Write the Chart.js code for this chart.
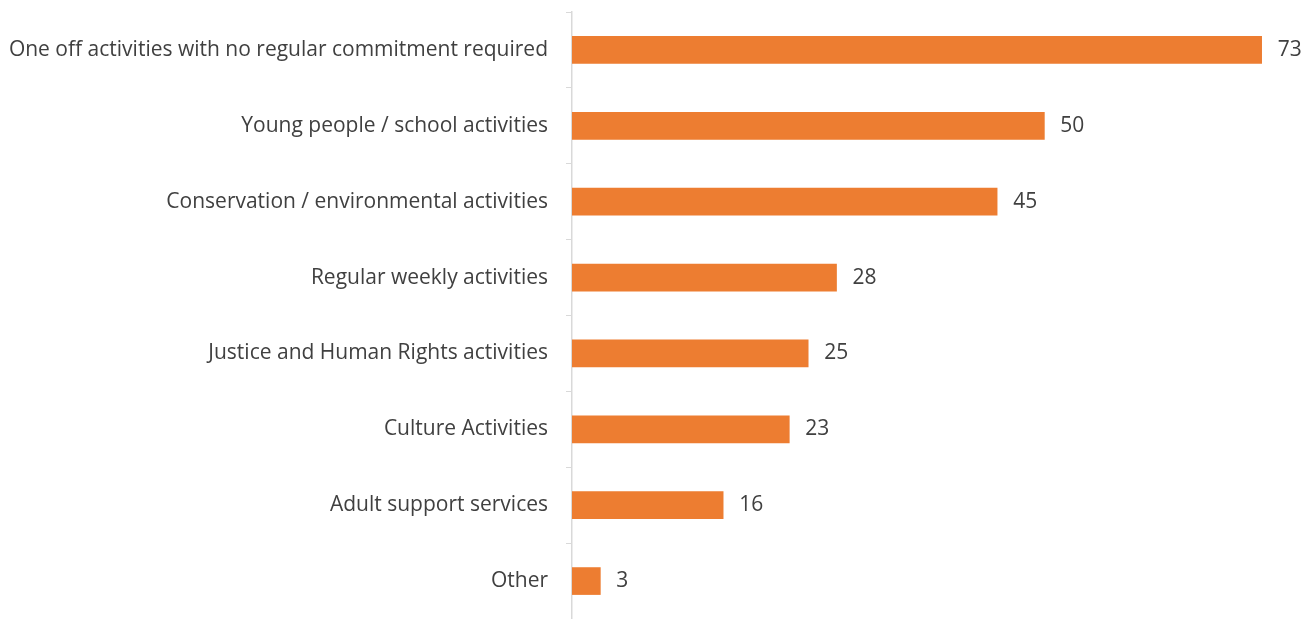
<!DOCTYPE html>
<html>
<head>
<meta charset="utf-8">
<script src="https://cdn.jsdelivr.net/npm/chart.js@4/dist/chart.umd.min.js"></script>
<style>
  html, body { margin: 0; padding: 0; background: #fff; }
  #wrap { width: 1314px; height: 619px; }
</style>
</head>
<body>
<div id="wrap"><canvas id="barChart"></canvas></div>
<script>
// Data
const categories = [
    'One off activities with no regular commitment required',
    'Young people / school activities',
    'Conservation / environmental activities',
    'Regular weekly activities',
    'Justice and Human Rights activities',
    'Culture Activities',
    'Adult support services',
    'Other'
];
const counts = [73, 50, 45, 28, 25, 23, 16, 3];

const barColor = '#ED7D31';
const textColor = '#404040';
const lineColor = '#D9D9D9';
const fontSize = 21;

Chart.defaults.font.family = "'Open Sans', sans-serif";
Chart.defaults.color = textColor;

// draw the value just right of each bar
const valueLabels = {
    id: 'valueLabels',
    afterDatasetsDraw(chart) {
        const ctx = chart.ctx;
        const meta = chart.getDatasetMeta(0);
        ctx.save();
        ctx.font = fontSize + "px 'Open Sans', sans-serif";
        ctx.fillStyle = textColor;
        ctx.textAlign = 'left';
        ctx.textBaseline = 'middle';
        meta.data.forEach((bar, i) => {
            ctx.fillText(String(counts[i]), bar.x + 16, bar.y);
        });
        ctx.restore();
    }
};

new Chart(document.getElementById('barChart').getContext('2d'), {
    type: 'bar',
    data: {
        labels: categories,
        datasets: [{
            data: counts,
            backgroundColor: barColor,
            borderWidth: 0,
            barThickness: 27
        }]
    },
    options: {
        indexAxis: 'y',
        responsive: true,
        maintainAspectRatio: false,
        animation: false,
        layout: { padding: { top: 12, right: 7, bottom: 0, left: 0 } },
        plugins: {
            legend: { display: false },
            tooltip: { enabled: false }
        },
        scales: {
            x: {
                display: false,
                min: 0,
                max: 77.8
            },
            y: {
                offset: true,
                grid: {
                    offset: true,
                    drawOnChartArea: false,
                    tickLength: 6,
                    color: lineColor
                },
                border: { color: lineColor, width: 1.5 },
                ticks: {
                    padding: 18,
                    font: { size: fontSize },
                    color: textColor
                },
                afterFit(scale) {
                    scale.width = 572;
                    scale.paddingTop = 0;
                    scale.paddingBottom = 0;
                }
            }
        }
    },
    plugins: [valueLabels]
});
</script>
</body>
</html>
